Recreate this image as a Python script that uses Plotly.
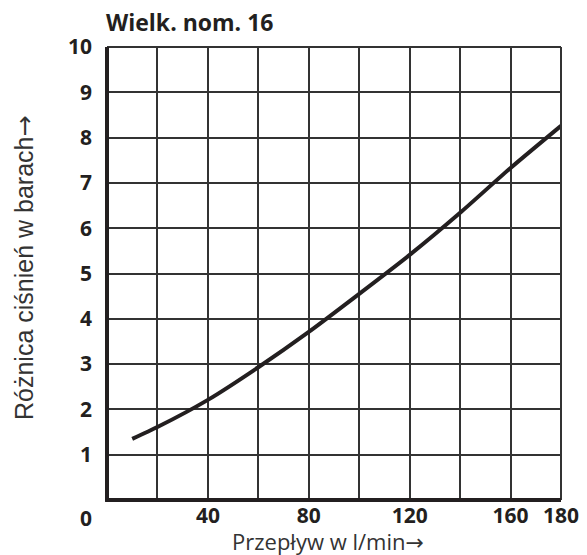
import plotly.graph_objects as go

flow = [10, 20, 40, 60, 80, 100, 120, 140, 160, 180]
dp = [1.35, 1.61, 2.21, 2.93, 3.71, 4.55, 5.41, 6.34, 7.33, 8.26]
x_tickvals = [40, 80, 120, 160, 180]
x_ticktext = ["40", "80", "120", "160", "180"]
y_tickvals = [1, 2, 3, 4, 5, 6, 7, 8, 9, 10]

ink = "#231f20"
arrow = '<span style="font-family:DejaVu Sans">→</span>'
fig = go.Figure()
fig.add_trace(go.Scatter(x=flow, y=dp, mode="lines",
                         line=dict(color=ink, width=4, shape="spline", smoothing=0.6),
                         showlegend=False, hoverinfo="skip"))

# page is offset by 8px body margin; plot area at page x 107..561, y 47..500
W, H = 579, 547
fig.update_layout(
    width=W, height=H,
    margin=dict(l=99, r=W - 553, t=39, b=H - 492, autoexpand=False),
    plot_bgcolor="white", paper_bgcolor="white",
    font=dict(family="Open Sans", color=ink),
    title=dict(text="<b>Wielk. nom. 16</b>", x=98 / W, xanchor="left",
               y=1 - 15 / H, yanchor="middle", font=dict(size=23, color=ink)),
)
fig.update_xaxes(range=[0, 180], showgrid=True, gridcolor="#333333", gridwidth=1.5,
                 zeroline=False, showline=False, tickmode="array", automargin=False,
                 tickvals=x_tickvals, ticktext=x_ticktext, ticks="",
                 ticklabelstandoff=1,
                 tickfont=dict(size=21, family="Open Sans", weight="bold", color=ink),
                 minor=dict(showgrid=True, gridcolor="#333333", gridwidth=1.5, tickvals=[20, 60, 100, 140]))
fig.update_yaxes(range=[0, 10], showgrid=True, gridcolor="#333333", gridwidth=1.5,
                 zeroline=False, showline=False, tickmode="array", tickvals=y_tickvals, ticks="",
                 ticklabelstandoff=14, automargin=False,
                 tickfont=dict(size=21, family="Open Sans", weight="bold", color=ink))

# borders
fig.add_shape(type="line", xref="paper", yref="paper", x0=0, x1=1, y0=1, y1=1, line=dict(color="#333333", width=2))
fig.add_shape(type="line", xref="paper", yref="paper", x0=1, x1=1, y0=0, y1=1, line=dict(color="#333333", width=2))
fig.add_shape(type="line", xref="paper", yref="paper", x0=0, x1=0, y0=-0.004, y1=1, line=dict(color=ink, width=4))
fig.add_shape(type="line", xref="paper", yref="paper", x0=-0.004, x1=1, y0=0, y1=0, line=dict(color=ink, width=4))

fig.add_annotation(text="<b>0</b>", xref="paper", yref="paper", x=-21 / 454, y=0, yshift=-18,
                   xanchor="center", yanchor="middle",
                   showarrow=False, font=dict(size=21, family="Open Sans", color=ink))
fig.add_annotation(text="Przepływ w l/min" + arrow, xref="paper", yref="paper",
                   x=221 / 454, y=0, yshift=-41, xanchor="center", yanchor="middle", showarrow=False,
                   font=dict(size=22, family="Open Sans", color="#333333"))
fig.add_annotation(text="Różnica ciśnień w barach" + arrow, xref="paper", yref="paper",
                   x=0, xshift=-83, y=232 / 453, xanchor="center", yanchor="middle",
                   textangle=-90, showarrow=False,
                   font=dict(size=25, family="Liberation Sans", color="#333333"))

fig.write_html("out.html")
